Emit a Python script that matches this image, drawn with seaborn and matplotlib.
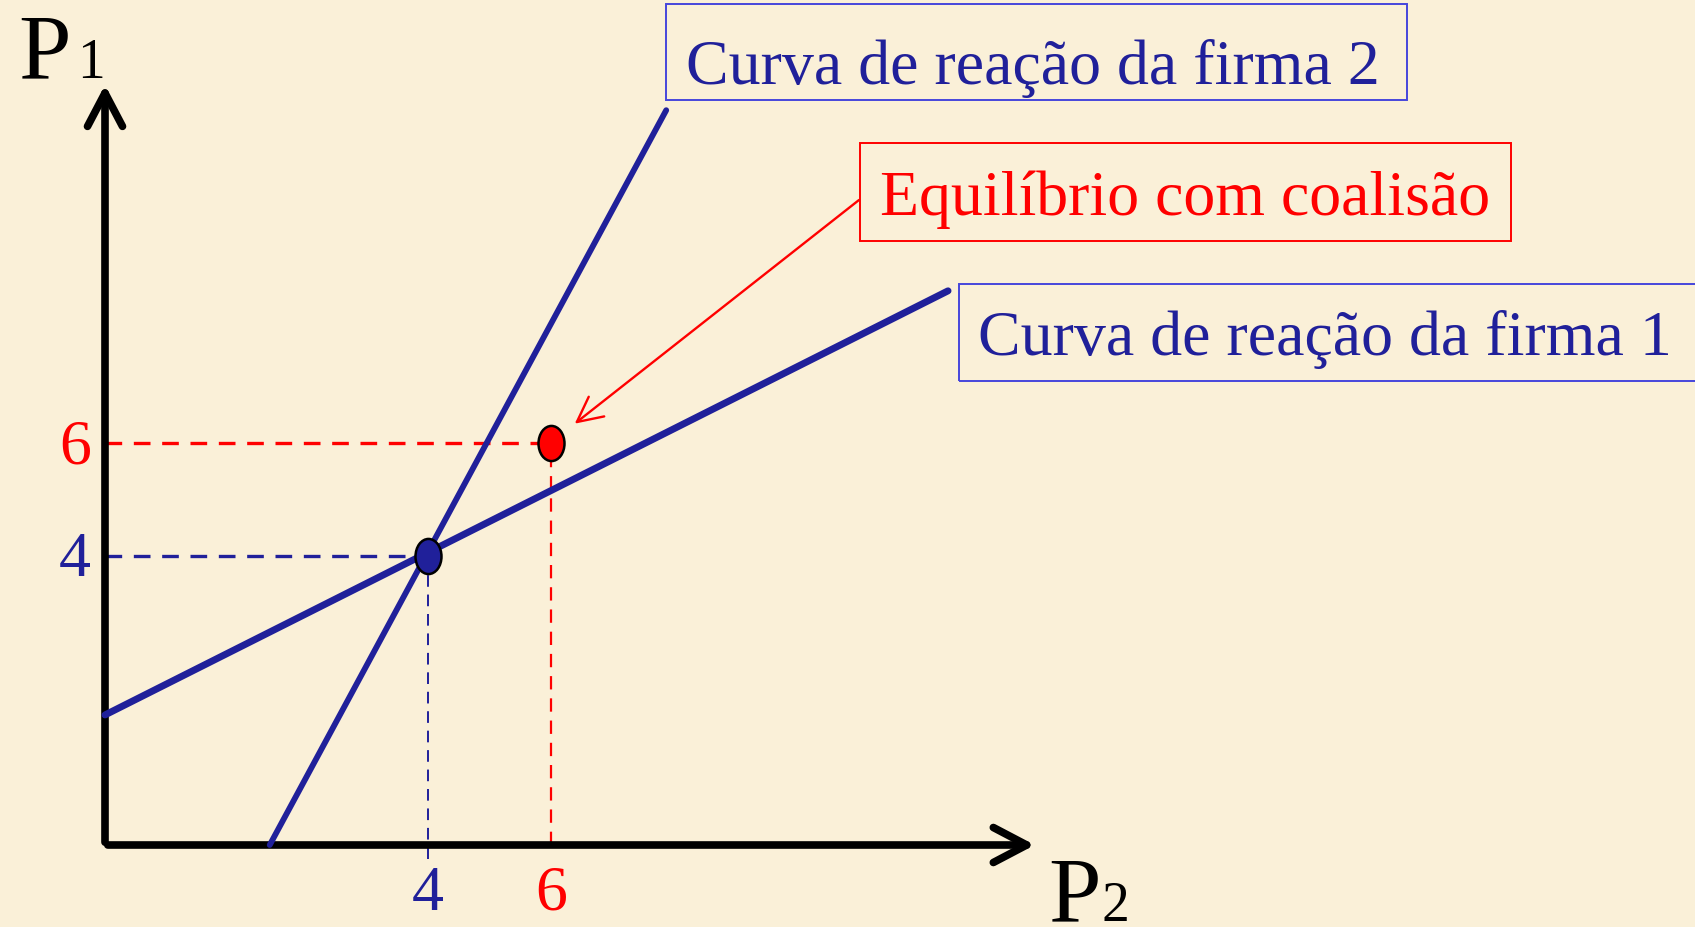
"""
Reaction curves of two firms (Bertrand with differentiated goods)
"""

import matplotlib
matplotlib.use("Agg")
import matplotlib.pyplot as plt
import seaborn as sns
from matplotlib.patches import FancyArrowPatch, Rectangle
from matplotlib.path import Path

# --- data (diagram units) ---
firm1_p2 = [0.0, 10.44]          # reaction curve of firm 1
firm1_p1 = [1.80, 7.67]
firm2_p2 = [2.04, 6.95]          # reaction curve of firm 2
firm2_p1 = [0.0, 10.17]
nash_eq = [4.0, 4.0]             # (P2, P1)
collusion_eq = [5.52, 5.57]      # drawn where the slide puts "6"
p2_ticks = [4.0, 5.52]
p2_labels = ["4", "6"]
p1_ticks = [4.0, 5.57]
p1_labels = ["4", "6"]
axis_end = [11.55, 10.56]

BLUE = "#20209a"
RED = "#ff0000"
BOX_BLUE = "#4646dc"
BG = "#faf0d8"

sns.set_theme(style="white")
plt.rcParams["font.family"] = ["Liberation Serif", "DejaVu Serif"]

W, H = 1695, 928
fig = plt.figure(figsize=(W / 100, H / 100), dpi=100, facecolor=BG)
ax = fig.add_axes([0, 0, 1, 1])
ax.set_facecolor(BG)

# pixel layout: origin at (105, 846), 80.75 px per unit in x, 72.25 in y
ax.set_xlim(-105 / 80.75, (W - 105) / 80.75)
ax.set_ylim(-(H - 846) / 72.25, 846 / 72.25)
ax.axis("off")

# axes with open arrow heads
for end in [(axis_end[0], 0), (0, axis_end[1])]:
    ax.add_patch(FancyArrowPatch((0, 0), end, arrowstyle="->,head_length=0.4,head_width=0.21",
                                 mutation_scale=60, lw=5.5, color="black",
                                 capstyle="round", joinstyle="round", zorder=3))

# guide lines
ax.plot([0, collusion_eq[0]], [collusion_eq[1]] * 2, color=RED, lw=2.4, ls=(0, (5, 3.5)), zorder=2)
ax.plot([collusion_eq[0]] * 2, [0, collusion_eq[1]], color=RED, lw=1.6, ls=(0, (6, 4)), zorder=2)
ax.plot([0, nash_eq[0]], [nash_eq[1]] * 2, color=BLUE, lw=2.4, ls=(0, (5, 3.5)), zorder=2)
ax.plot([nash_eq[0]] * 2, [-0.2, nash_eq[1]], color=BLUE, lw=1.4, ls=(0, (6, 4)), zorder=2)

# reaction curves
sns.lineplot(x=firm1_p2, y=firm1_p1, color=BLUE, lw=5.0, sort=False, estimator=None, ax=ax, zorder=4)
sns.lineplot(x=firm2_p2, y=firm2_p1, color=BLUE, lw=4.2, sort=False, estimator=None, ax=ax, zorder=4)

# equilibrium points as tall ellipses
circ = Path.unit_circle()
ellipse = Path(circ.vertices * [0.74, 1.0], circ.codes)
sns.scatterplot(x=[nash_eq[0]], y=[nash_eq[1]], marker=ellipse, s=640, color=BLUE,
                edgecolor="black", linewidth=1.8, ax=ax, zorder=5)
sns.scatterplot(x=[collusion_eq[0]], y=[collusion_eq[1]], marker=ellipse, s=640, color=RED,
                edgecolor="black", linewidth=1.8, ax=ax, zorder=5)

# tick labels
for t, lab, c in zip(p2_ticks, p2_labels, [BLUE, RED]):
    ax.annotate(lab, xy=(t, 0), xytext=(0, -46), textcoords="offset points",
                ha="center", va="baseline", fontsize=46, color=c)
for t, lab, c in zip(p1_ticks, p1_labels, [BLUE, RED]):
    ax.annotate(lab, xy=(0, t), xytext=(-10, -14), textcoords="offset points",
                ha="right", va="baseline", fontsize=46, color=c)


def px(x, y):
    return x / W, 1 - y / H


# axis names
fig.text(*px(18, 78), "P", fontsize=68, color="black", va="baseline")
fig.text(*px(77, 78), "1", fontsize=40, color="black", va="baseline")
fig.text(*px(1048, 921), "P", fontsize=68, color="black", va="baseline")
fig.text(*px(1102, 921), "2", fontsize=40, color="black", va="baseline")

# boxed captions
boxes = [
    ("Curva de reação da firma 2", BLUE, BOX_BLUE, (666, 5, 1407, 101), (686, 84)),
    ("Equilíbrio com coalisão", RED, RED, (860, 144, 1511, 242), (880, 215)),
    ("Curva de reação da firma 1", BLUE, BOX_BLUE, (959, 285, 1720, 382), (978, 355)),
]
for text, tc, bc, (x0, y0, x1, y1), (tx, ty) in boxes:
    fig.patches.append(Rectangle(px(x0, y1), (x1 - x0) / W, (y1 - y0) / H, fill=False,
                                 edgecolor=bc, lw=1.4, transform=fig.transFigure, figure=fig))
    fig.text(*px(tx, ty), text, fontsize=46, color=tc, va="baseline")

# arrow from the collusion caption to its point
ax.annotate("", xy=(collusion_eq[0], collusion_eq[1]), xytext=(859, H - 201),
            textcoords="figure pixels",
            arrowprops=dict(arrowstyle="->,head_length=0.9,head_width=0.45", color=RED,
                            lw=1.7, shrinkA=0, shrinkB=22, mutation_scale=20))

fig.savefig("out.png", dpi=100, facecolor=BG)
